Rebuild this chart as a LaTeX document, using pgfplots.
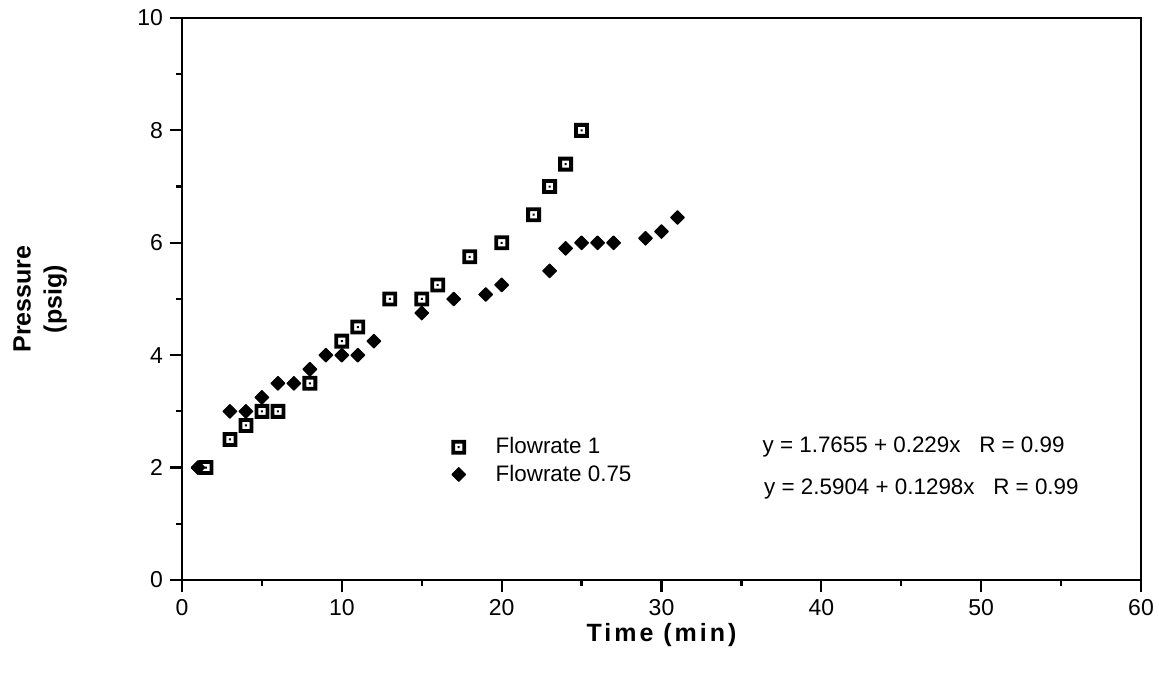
\documentclass[border=0pt]{standalone}
\usepackage{fontspec}
\setmainfont{Liberation Sans}
\usepackage{pgfplots}
\pgfplotsset{compat=1.18}

\pgfdeclareplotmark{sqdot}{%
  \pgfseteorule
  \pgfpathrectangle{\pgfqpoint{-3.7pt}{-3.7pt}}{\pgfqpoint{7.4pt}{7.4pt}}%
  \pgfpathrectangle{\pgfqpoint{-1.8pt}{-1.8pt}}{\pgfqpoint{3.6pt}{3.6pt}}%
  \pgfpathrectangle{\pgfqpoint{-0.5pt}{-0.5pt}}{\pgfqpoint{1pt}{1pt}}%
  \pgfusepathqfill
}
\pgfdeclareplotmark{diam}{%
  \pgfpathmoveto{\pgfqpoint{0pt}{3.4pt}}%
  \pgfpathlineto{\pgfqpoint{3.4pt}{0pt}}%
  \pgfpathlineto{\pgfqpoint{0pt}{-3.4pt}}%
  \pgfpathlineto{\pgfqpoint{-3.4pt}{0pt}}%
  \pgfpathclose
  \pgfusepathqfillstroke
}

\pgfplotstableread{
x y
1.5 2
3 2.5
4 2.75
5 3
6 3
8 3.5
10 4.25
11 4.5
13 5
15 5
16 5.25
18 5.75
20 6
22 6.5
23 7
24 7.4
25 8
}\flowa
\pgfplotstableread{
x y
1 2
3 3
4 3
5 3.25
6 3.5
7 3.5
8 3.75
9 4
10 4
11 4
12 4.25
15 4.75
17 5
19 5.08
20 5.25
23 5.5
24 5.9
25 6
26 6
27 6
29 6.08
30 6.2
31 6.45
}\flowb

\begin{document}
\begin{tikzpicture}
\path[use as bounding box] (-91pt,-49.5pt) rectangle (488.5pt,290pt);
\begin{axis}[
  at={(0,0)}, anchor=south west,
  scale only axis, width=479.5pt, height=281pt,
  xmin=0, xmax=60, ymin=0, ymax=10,
  xtick={0,10,...,60}, minor xtick={5,15,...,55},
  ytick={0,2,...,10}, minor ytick={1,3,...,9},
  tick align=outside, tick pos=left,
  major tick length=6pt, minor tick length=3pt,
  axis line style={line width=1.3pt},
  every tick/.style={line width=1.1pt, black},
  /pgf/number format/assume math mode=true,
  xticklabel={\fontsize{11.5}{14}\selectfont\pgfmathprintnumber{\tick}},
  yticklabel={\fontsize{11.5}{14}\selectfont\pgfmathprintnumber{\tick}},
  xlabel={Time (min)}, ylabel={Pressure\\(psig)},
  label style={font=\bfseries\fontsize{12.5}{15.5}\selectfont},
  ylabel style={align=center, at={(axis description cs:-0.148,0.5)}, anchor=center},
  xlabel style={at={(axis description cs:0.5,-0.098)}, anchor=center,
    font=\bfseries\fontsize{12.5}{15.5}\selectfont\addfontfeatures{LetterSpace=12}},
  legend style={draw=none, fill=none, font=\fontsize{11.2}{13.5}\selectfont,
    at={(axis cs:16.45,2.12)}, anchor=west, legend cell align=left},
  legend image code/.code={%
    \path[draw=none, fill=none] (-0.12cm,0cm) -- (0.58cm,0cm);
    \draw[#1, only marks] plot coordinates {(0cm,0cm)};},
  clip=false,
]
\addplot[only marks, mark=sqdot, black, mark options={fill=black}] table {\flowa};
\addlegendentry{Flowrate 1}
\addplot[only marks, mark=diam, black, mark options={fill=black, line width=0.6pt, line join=round}] table {\flowb};
\addlegendentry{Flowrate 0.75}
\node[anchor=west, font=\fontsize{11.2}{13}\selectfont, inner sep=0pt] at (axis cs:36.3,2.36) {y = 1.7655 + 0.229x\ \ \ R = 0.99};
\node[anchor=west, font=\fontsize{11.2}{13}\selectfont, inner sep=0pt] at (axis cs:36.4,1.62) {y = 2.5904 + 0.1298x\ \ \ R = 0.99};
\end{axis}
\end{tikzpicture}
\end{document}
